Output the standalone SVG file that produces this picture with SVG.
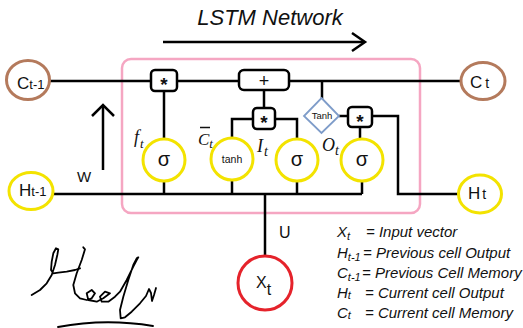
<svg xmlns="http://www.w3.org/2000/svg" width="523" height="328" viewBox="0 0 523 328">
  <style>
    .wire { fill: none; stroke: #000; stroke-width: 2.5; stroke-linejoin: miter; }
    .op { fill: #fff; stroke: #000; stroke-width: 2.5; }
    .star { font-family: "Liberation Sans", Arial, sans-serif; font-size: 19px; font-weight: bold; fill: #111; text-anchor: middle; }
    .gate { fill: #fff; stroke: #f3e300; stroke-width: 3; }
    .mem { fill: #fff; stroke: #b47a5c; stroke-width: 3; }
    .hid { fill: #fff; stroke: #f3e300; stroke-width: 3; }
    .inp { fill: #fff; stroke: #e5232b; stroke-width: 3; }
    .sans { font-family: "Liberation Sans", Arial, sans-serif; fill: #111; }
    .math { font-family: "Liberation Serif", "Times New Roman", serif; font-style: italic; fill: #111; }
    .legend { font-family: "Liberation Sans", Arial, sans-serif; font-style: italic; font-size: 15px; fill: #111; }
    .ink { fill: none; stroke: #000; stroke-width: 1.8; stroke-linecap: round; stroke-linejoin: round; }
  </style>

  <!-- heading with direction arrow -->
  <g id="title">
    <text class="sans" x="270" y="25" font-size="22" font-style="italic" text-anchor="middle">LSTM Network</text>
    <path class="wire" d="M163,42 H364" stroke-width="3"/>
    <path class="wire" d="M352,33 L365,42 L352,51" stroke-width="3"/>
  </g>

  <!-- cell boundary -->
  <rect id="cell" x="122" y="59" width="298" height="154" rx="9" fill="none" stroke="#f5a6c2" stroke-width="2.5"/>

  <!-- connectors -->
  <g id="connectors">
    <path class="wire" d="M50,81 H151"/>
    <path class="wire" d="M177,81 H239"/>
    <path class="wire" d="M289,81 H461"/>
    <path class="wire" d="M164,91 V139"/>
    <path class="wire" d="M264,90 V108"/>
    <path class="wire" d="M232,139 V119 H253"/>
    <path class="wire" d="M275,119 H297 V139"/>
    <path class="wire" d="M322,81 V99"/>
    <path class="wire" d="M339,116 H348"/>
    <path class="wire" d="M360,127 V139"/>
    <path class="wire" d="M372,116 H398 V194 H459"/>
    <path class="wire" d="M53,194 H362"/>
    <path class="wire" d="M164,181 V194"/>
    <path class="wire" d="M232,180 V194"/>
    <path class="wire" d="M297,181 V194"/>
    <path class="wire" d="M362,181 V194"/>
    <path class="wire" d="M265,194 V256"/>
    <!-- W weight arrow -->
    <path class="wire" d="M103,170 V106"/>
    <path class="wire" d="M92,116 L103,105 L114,116"/>
  </g>

  <!-- external nodes -->
  <g id="c-prev">
    <ellipse class="mem" cx="28" cy="80" rx="21.5" ry="19.5"/>
    <text class="sans" x="17" y="89" font-size="17">C<tspan font-size="13">t-1</tspan></text>
  </g>
  <g id="c-cur">
    <ellipse class="mem" cx="483" cy="81" rx="22" ry="18.5"/>
    <text class="sans" x="470" y="88" font-size="17">C<tspan font-size="14" dx="3">t</tspan></text>
  </g>
  <g id="h-prev">
    <ellipse class="hid" cx="31" cy="191" rx="22" ry="18.5"/>
    <text class="sans" x="19" y="196" font-size="17">H<tspan font-size="13">t-1</tspan></text>
  </g>
  <g id="h-cur">
    <ellipse class="hid" cx="480" cy="194" rx="21.5" ry="19"/>
    <text class="sans" x="468" y="199" font-size="17">H<tspan font-size="14" dx="2">t</tspan></text>
  </g>
  <g id="x-in">
    <circle class="inp" cx="265" cy="283" r="27"/>
    <text class="sans" x="256" y="288" font-size="16">X<tspan dy="7">t</tspan></text>
  </g>

  <!-- pointwise operations -->
  <g id="forget-mul">
    <rect class="op" x="151" y="70" width="26" height="21" rx="4"/>
    <text class="star" x="164" y="91">*</text>
  </g>
  <g id="cell-add">
    <rect class="op" x="239" y="70" width="50" height="20" rx="5"/>
    <text class="sans" x="264" y="86.5" font-size="18" text-anchor="middle">+</text>
  </g>
  <g id="input-mul">
    <rect class="op" x="253" y="108" width="22" height="21" rx="4"/>
    <text class="star" x="264" y="129">*</text>
  </g>
  <g id="output-mul">
    <rect class="op" x="348" y="107" width="24" height="20" rx="4"/>
    <text class="star" x="360" y="127.5">*</text>
  </g>
  <g id="output-tanh">
    <polygon points="321.5,98 339,116 321.5,133 304,116" fill="#fff" stroke="#7e9cc9" stroke-width="1.8"/>
    <text class="sans" x="322" y="119" font-size="9.5" text-anchor="middle" fill="#3a3a3a">Tanh</text>
  </g>

  <!-- gates -->
  <g id="forget-gate">
    <circle class="gate" cx="164" cy="160" r="21"/>
    <text class="sans" x="164" y="166" font-size="20" text-anchor="middle">σ</text>
    <text class="math" x="134" y="143" font-size="18">f<tspan font-size="13" dx="1" dy="5">t</tspan></text>
  </g>
  <g id="candidate">
    <circle class="gate" cx="232" cy="159" r="21"/>
    <text class="sans" x="232" y="163" font-size="10.5" text-anchor="middle">tanh</text>
    <text class="math" x="198" y="145" font-size="17">C<tspan font-size="13" dy="3">t</tspan></text>
    <path d="M200,127.5 H210" stroke="#111" stroke-width="1.5"/>
  </g>
  <g id="input-gate">
    <circle class="gate" cx="297" cy="160" r="21"/>
    <text class="sans" x="297" y="166" font-size="20" text-anchor="middle">σ</text>
    <text class="math" x="257" y="152" font-size="18">I<tspan font-size="14" dx="1" dy="4">t</tspan></text>
  </g>
  <g id="output-gate">
    <circle class="gate" cx="362" cy="160" r="21"/>
    <text class="sans" x="362" y="166" font-size="20" text-anchor="middle">σ</text>
    <text class="math" x="322" y="151" font-size="18">O<tspan font-size="14" dy="4">t</tspan></text>
  </g>

  <!-- weight labels -->
  <text class="sans" x="77" y="182" font-size="15">W</text>
  <text class="sans" x="279" y="238" font-size="16">U</text>

  <!-- legend -->
  <g id="legend">
    <text class="legend" x="337" y="237">X<tspan font-size="11" dy="3">t</tspan></text>
    <text class="legend" x="366" y="237">= Input vector</text>
    <text class="legend" x="337" y="258">H<tspan font-size="11" dy="3">t-1</tspan></text>
    <text class="legend" x="363" y="258">= Previous cell Output</text>
    <text class="legend" x="337" y="278">C<tspan font-size="11" dy="3">t-1</tspan></text>
    <text class="legend" x="362" y="278">= Previous Cell Memory</text>
    <text class="legend" x="337" y="298">H<tspan font-size="11" dy="1">t</tspan></text>
    <text class="legend" x="365" y="298">= Current cell Output</text>
    <text class="legend" x="337" y="318">C<tspan font-size="11" dy="1">t</tspan></text>
    <text class="legend" x="365" y="318">= Current cell Memory</text>
  </g>

  <!-- hand-drawn signature -->
  <g id="signature">
    <polyline class="ink" points="31.7,295 40,290 46.7,283.3 51.7,275 55,265 57.3,255 58.3,249.3 56,248.3 53.3,253.3 51.7,261.7 51,270 53.3,273.3 58.3,272.7 66.7,271.7 75,270 80,268.3"/>
    <polyline class="ink" points="83.3,247.3 85,249.3 81.7,260 76.7,273.3 73.3,285 75,293.3 80,298.3 86.7,300 91.7,298.3 95,293.3 91.7,290 86.7,293.3 88.3,300 96.7,301.7 103.3,298.3 110,293.3 105,291.7 100,296.7 101.7,301.7 108.3,301.7 115,296.7 120,291.7 126.7,280 133.3,266.7 136.7,260 138.3,257.3 136.7,258.3 133.3,265 128.3,280 123.3,296.7 120,310 120.7,318.3 125,317.3 131.7,311.7 140,303.3 146,296 149,289 151,293 152,301 154,295 156,288"/>
    <path class="ink" d="M58,327 Q105,318 153,326"/>
  </g>
</svg>
